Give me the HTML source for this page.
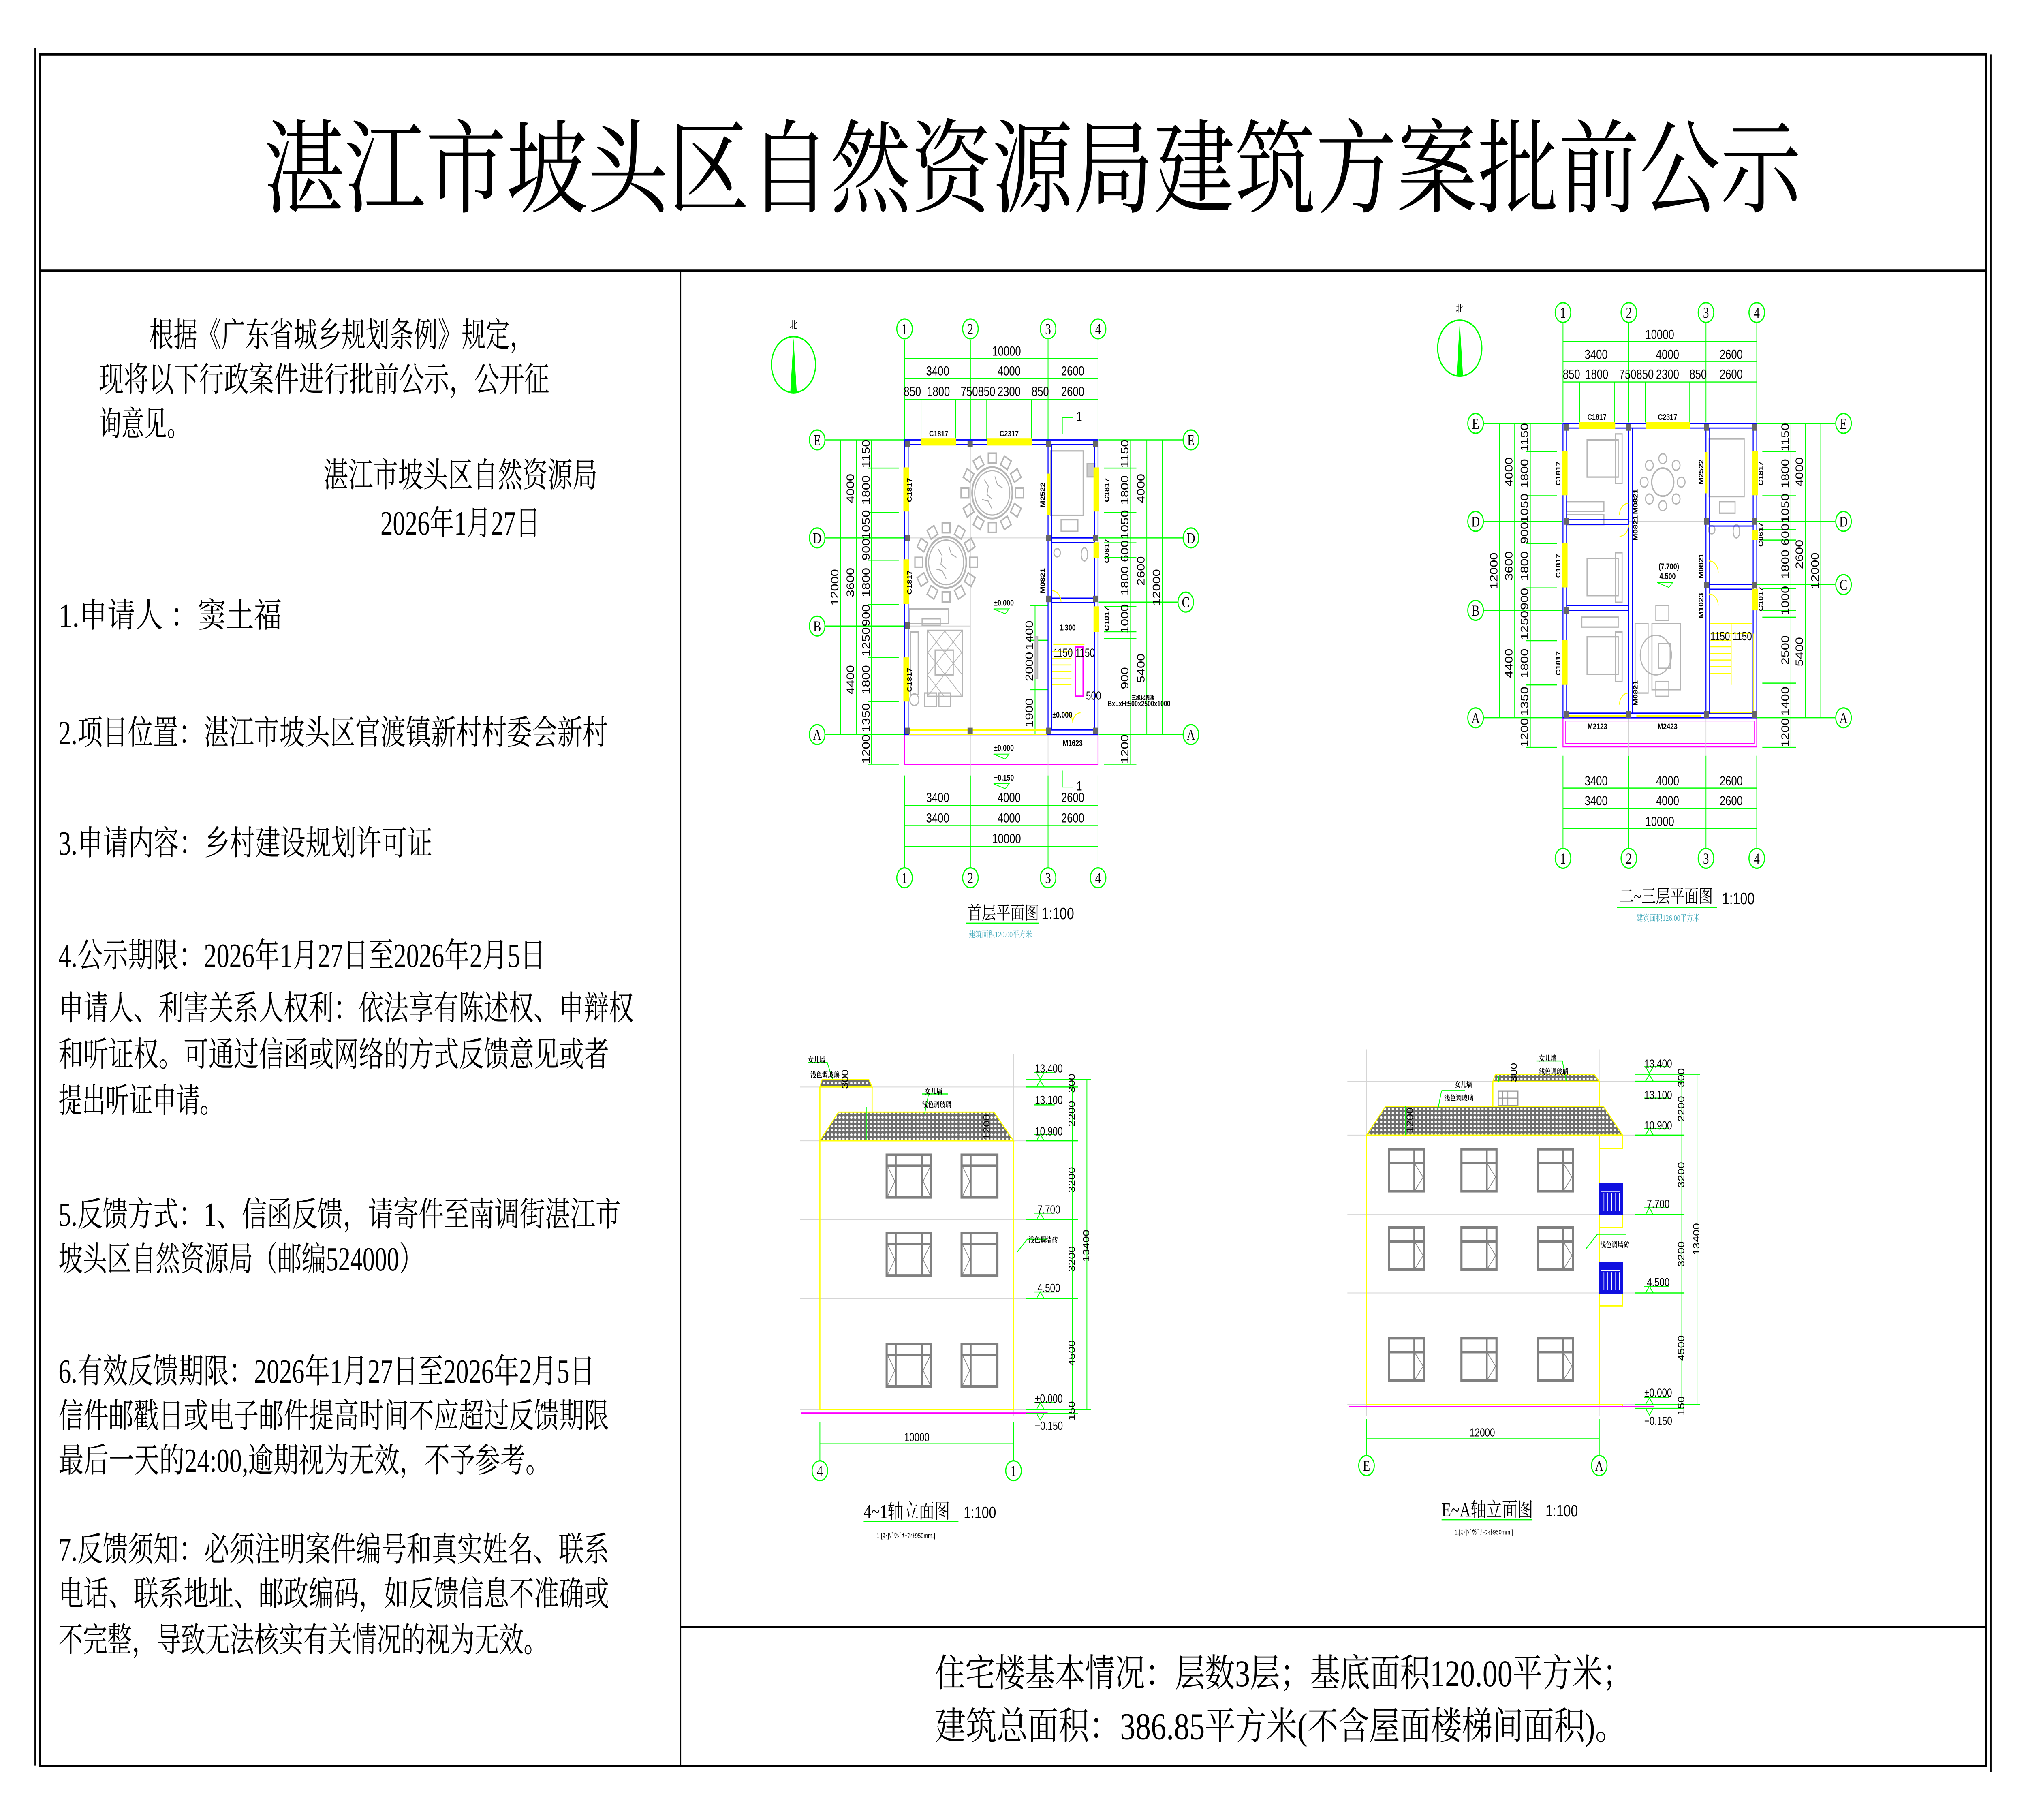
<!DOCTYPE html>
<html><head><meta charset="utf-8">
<style>
html,body{margin:0;padding:0;background:#fff;overflow:hidden;width:100%;height:100%;}
svg{display:block;width:100vw;height:100vh;}
.cn{font-family:"Liberation Serif","Noto Serif CJK SC",serif;}
.d{font-family:"Liberation Sans",sans-serif;fill:#000;}
</style></head>
<body>
<svg viewBox="0 0 1560 1103" preserveAspectRatio="none" xmlns="http://www.w3.org/2000/svg">
<defs>
<pattern id="tile" width="3" height="2.6" patternUnits="userSpaceOnUse">
<rect width="3" height="2.6" fill="#6e6e6e"/><rect x="0.6" y="0.6" width="1.8" height="1.3" rx="0.6" fill="#fff"/>
</pattern>
<g id="table">
<circle r="15.5" fill="none" stroke="#b5b5b5" stroke-width="1.2"/>
<circle r="13.5" fill="none" stroke="#b5b5b5" stroke-width="0.8"/>
<g fill="none" stroke="#b5b5b5" stroke-width="1">
<rect x="-3" y="-24" width="6" height="6" transform="rotate(0)"/>
<rect x="-3" y="-24" width="6" height="6" transform="rotate(30)"/>
<rect x="-3" y="-24" width="6" height="6" transform="rotate(60)"/>
<rect x="-3" y="-24" width="6" height="6" transform="rotate(90)"/>
<rect x="-3" y="-24" width="6" height="6" transform="rotate(120)"/>
<rect x="-3" y="-24" width="6" height="6" transform="rotate(150)"/>
<rect x="-3" y="-24" width="6" height="6" transform="rotate(180)"/>
<rect x="-3" y="-24" width="6" height="6" transform="rotate(210)"/>
<rect x="-3" y="-24" width="6" height="6" transform="rotate(240)"/>
<rect x="-3" y="-24" width="6" height="6" transform="rotate(270)"/>
<rect x="-3" y="-24" width="6" height="6" transform="rotate(300)"/>
<rect x="-3" y="-24" width="6" height="6" transform="rotate(330)"/>
</g>
<path d="M-6 -8 l3 4 l-1 5 l4 3 M2 -10 l2 5 l4 2 M-8 4 l5 1 l3 5" stroke="#aaa" stroke-width="0.6" fill="none"/>
</g>
<g id="win3" fill="none" stroke="#808080">
<rect x="0" y="0" width="34.4" height="25.7" stroke-width="1.6"/>
<line x1="0" y1="6.5" x2="34.4" y2="6.5" stroke-width="1.4"/>
<line x1="7" y1="0" x2="7" y2="25.7" stroke-width="1.4"/>
<line x1="27.4" y1="0" x2="27.4" y2="25.7" stroke-width="1.4"/>
<path d="M0.8 7 L6.3 16 L0.8 25 M33.6 7 L28.1 16 L33.6 25" stroke-width="0.5"/>
</g>
<g id="win2" fill="none" stroke="#808080">
<rect x="0" y="0" width="27.6" height="25.7" stroke-width="1.6"/>
<line x1="0" y1="6.5" x2="27.6" y2="6.5" stroke-width="1.4"/>
<line x1="7" y1="0" x2="7" y2="25.7" stroke-width="1.4"/>
<path d="M0.8 7 L6.3 16 L0.8 25" stroke-width="0.5"/>
</g>
<g id="win4" fill="none" stroke="#808080">
<rect x="0" y="0" width="27" height="25.5" stroke-width="1.6"/>
<line x1="0" y1="8.5" x2="27" y2="8.5" stroke-width="1.4"/>
<line x1="19.5" y1="0" x2="19.5" y2="25.5" stroke-width="1.4"/>
<path d="M20 9 L26.3 17 L20 25" stroke-width="0.5"/>
</g>
</defs>

<g stroke="#000" fill="none">
<line x1="27" y1="29" x2="27" y2="1070" stroke-width="0.9"/>
<line x1="1533" y1="33" x2="1533" y2="1074" stroke-width="0.9"/>
<rect x="30.7" y="33" width="1498.7" height="1037.2" stroke-width="1.2"/>
<line x1="30.7" y1="164" x2="1529.4" y2="164" stroke-width="1.2"/>
<line x1="523.9" y1="164" x2="523.9" y2="1070" stroke-width="1.2"/>
<line x1="523.9" y1="986" x2="1529.4" y2="986" stroke-width="1.2"/>
</g>

<text class="cn" x="203" y="124" font-size="62" textLength="1184" lengthAdjust="spacingAndGlyphs">湛江市坡头区自然资源局建筑方案批前公示</text>

<g class="cn" font-size="20.5">
<text x="115" y="210" textLength="296" lengthAdjust="spacingAndGlyphs">根据《广东省城乡规划条例》规定，</text>
<text x="76" y="237" textLength="347" lengthAdjust="spacingAndGlyphs">现将以下行政案件进行批前公示，公开征</text>
<text x="76" y="264" textLength="70" lengthAdjust="spacingAndGlyphs">询意见。</text>
<text x="249" y="295" textLength="211" lengthAdjust="spacingAndGlyphs">湛江市坡头区自然资源局</text>
<text x="293" y="324" textLength="123" lengthAdjust="spacingAndGlyphs">2026年1月27日</text>
<text x="45" y="380" textLength="172" lengthAdjust="spacingAndGlyphs">1.申请人  ：窦土福</text>
<text x="45" y="451" textLength="423" lengthAdjust="spacingAndGlyphs">2.项目位置：湛江市坡头区官渡镇新村村委会新村</text>
<text x="45" y="518" textLength="288" lengthAdjust="spacingAndGlyphs">3.申请内容：乡村建设规划许可证</text>
<text x="45" y="586" textLength="375" lengthAdjust="spacingAndGlyphs">4.公示期限：2026年1月27日至2026年2月5日</text>
<text x="45" y="618" textLength="443" lengthAdjust="spacingAndGlyphs">申请人、利害关系人权利：依法享有陈述权、申辩权</text>
<text x="45" y="646" textLength="424" lengthAdjust="spacingAndGlyphs">和听证权。可通过信函或网络的方式反馈意见或者</text>
<text x="45" y="674" textLength="127" lengthAdjust="spacingAndGlyphs">提出听证申请。</text>
<text x="45" y="743" textLength="433" lengthAdjust="spacingAndGlyphs">5.反馈方式：1、信函反馈，请寄件至南调街湛江市</text>
<text x="45" y="770" textLength="281" lengthAdjust="spacingAndGlyphs">坡头区自然资源局（邮编524000）</text>
<text x="45" y="838" textLength="413" lengthAdjust="spacingAndGlyphs">6.有效反馈期限：2026年1月27日至2026年2月5日</text>
<text x="45" y="865" textLength="424" lengthAdjust="spacingAndGlyphs">信件邮戳日或电子邮件提高时间不应超过反馈期限</text>
<text x="45" y="892" textLength="379" lengthAdjust="spacingAndGlyphs">最后一天的24:00,逾期视为无效，不予参考。</text>
<text x="45" y="946" textLength="424" lengthAdjust="spacingAndGlyphs">7.反馈须知：必须注明案件编号和真实姓名、联系</text>
<text x="45" y="973" textLength="424" lengthAdjust="spacingAndGlyphs">电话、联系地址、邮政编码，如反馈信息不准确或</text>
<text x="45" y="1001" textLength="377" lengthAdjust="spacingAndGlyphs">不完整，导致无法核实有关情况的视为无效。</text>
</g>

<g class="cn" font-size="23">
<text x="720" y="1022" textLength="537" lengthAdjust="spacingAndGlyphs">住宅楼基本情况：层数3层；基底面积120.00平方米；</text>
<text x="720" y="1054" textLength="532" lengthAdjust="spacingAndGlyphs">建筑总面积：386.85平方米(不含屋面楼梯间面积)。</text>
</g>

<!-- ============ FLOOR PLAN 1 ============ -->
<g>
<circle cx="611" cy="221" r="17" fill="none" stroke="#0f0" stroke-width="0.9"/>
<polygon points="611,205 608.5,238 613.5,238" fill="#0f0"/>
<text x="611" y="199" font-size="6" text-anchor="middle" class="cn">北</text>

<g stroke="#0f0" stroke-width="0.6" fill="none">
<line x1="696.5" y1="206" x2="696.5" y2="266"/><line x1="747.2" y1="206" x2="747.2" y2="266"/>
<line x1="807" y1="206" x2="807" y2="266"/><line x1="845.5" y1="206" x2="845.5" y2="266"/>
<line x1="696.5" y1="217.3" x2="845.5" y2="217.3"/>
<line x1="696.5" y1="229.4" x2="845.5" y2="229.4"/>
<line x1="696.5" y1="242.1" x2="845.5" y2="242.1"/>
<line x1="709.2" y1="242" x2="709.2" y2="266"/><line x1="736" y1="242" x2="736" y2="266"/>
<line x1="759.8" y1="242" x2="759.8" y2="266"/><line x1="794.1" y1="242" x2="794.1" y2="266"/>
<line x1="696.5" y1="470" x2="696.5" y2="526"/><line x1="747.2" y1="470" x2="747.2" y2="526"/>
<line x1="807" y1="470" x2="807" y2="526"/><line x1="845.5" y1="470" x2="845.5" y2="526"/>
<line x1="696.5" y1="488.1" x2="845.5" y2="488.1"/>
<line x1="696.5" y1="500.4" x2="845.5" y2="500.4"/>
<line x1="696.5" y1="512.9" x2="845.5" y2="512.9"/>
<line x1="635" y1="266.6" x2="696" y2="266.6"/><line x1="635" y1="326" x2="696" y2="326"/>
<line x1="635" y1="379.4" x2="696" y2="379.4"/><line x1="635" y1="445.2" x2="696" y2="445.2"/>
<line x1="647.3" y1="266.6" x2="647.3" y2="445.2"/>
<line x1="659.3" y1="266.6" x2="659.3" y2="445.2"/>
<line x1="671.1" y1="266.6" x2="671.1" y2="463.1"/>
<line x1="668" y1="283.7" x2="692" y2="283.7"/><line x1="668" y1="310.5" x2="692" y2="310.5"/>
<line x1="668" y1="339.5" x2="692" y2="339.5"/><line x1="668" y1="366.3" x2="692" y2="366.3"/>
<line x1="668" y1="398.3" x2="692" y2="398.3"/><line x1="668" y1="425.1" x2="692" y2="425.1"/>
<line x1="668" y1="463.1" x2="692" y2="463.1"/>
<line x1="846" y1="266.6" x2="911" y2="266.6"/><line x1="846" y1="326" x2="911" y2="326"/>
<line x1="846" y1="364.9" x2="907" y2="364.9"/><line x1="846" y1="445.2" x2="911" y2="445.2"/>
<line x1="870.6" y1="266.6" x2="870.6" y2="463.1"/>
<line x1="883" y1="266.6" x2="883" y2="445.2"/>
<line x1="895" y1="266.6" x2="895" y2="445.2"/>
<line x1="850" y1="283.7" x2="875" y2="283.7"/><line x1="850" y1="310.5" x2="875" y2="310.5"/>
<line x1="850" y1="329" x2="875" y2="329"/><line x1="850" y1="338" x2="875" y2="338"/>
<line x1="850" y1="367.5" x2="875" y2="367.5"/><line x1="850" y1="382.9" x2="875" y2="382.9"/>
<line x1="850" y1="387" x2="875" y2="387"/><line x1="850" y1="463.1" x2="875" y2="463.1"/>
<line x1="797" y1="367" x2="797" y2="445"/>
<line x1="793" y1="367" x2="807" y2="367"/><line x1="793" y1="388" x2="807" y2="388"/><line x1="793" y1="418" x2="807" y2="418"/>
</g>
<g fill="#fff" stroke="#0f0" stroke-width="0.8">
<circle cx="696.5" cy="199.3" r="6"/><circle cx="747.2" cy="199.3" r="6"/><circle cx="807" cy="199.3" r="6"/><circle cx="845.5" cy="199.3" r="6"/>
<circle cx="696.5" cy="532" r="6"/><circle cx="747.2" cy="532" r="6"/><circle cx="807" cy="532" r="6"/><circle cx="845.5" cy="532" r="6"/>
<circle cx="629.2" cy="266.6" r="6"/><circle cx="629.2" cy="326" r="6"/><circle cx="629.2" cy="379.4" r="6"/><circle cx="629.2" cy="445.2" r="6"/>
<circle cx="917" cy="266.6" r="6"/><circle cx="917" cy="326" r="6"/><circle cx="913" cy="364.9" r="6"/><circle cx="917" cy="445.2" r="6"/>
</g>
<g class="cn" font-size="9" text-anchor="middle">
<text x="696.5" y="202.5">1</text><text x="747.2" y="202.5">2</text><text x="807" y="202.5">3</text><text x="845.5" y="202.5">4</text>
<text x="696.5" y="535.2">1</text><text x="747.2" y="535.2">2</text><text x="807" y="535.2">3</text><text x="845.5" y="535.2">4</text>
<text x="629.2" y="269.8">E</text><text x="629.2" y="329.2">D</text><text x="629.2" y="382.6">B</text><text x="629.2" y="448.4">A</text>
<text x="917" y="269.8">E</text><text x="917" y="329.2">D</text><text x="913" y="368.1">C</text><text x="917" y="448.4">A</text>
</g>
<g class="d" font-size="8" text-anchor="middle">
<text x="775" y="215.5">10000</text>
<text x="722" y="227.5">3400</text><text x="777" y="227.5">4000</text><text x="826" y="227.5">2600</text>
<text x="702.5" y="240">850</text><text x="722.5" y="240">1800</text><text x="753" y="240">750850</text><text x="777" y="240">2300</text><text x="801" y="240">850</text><text x="826" y="240">2600</text>
<text x="722" y="486">3400</text><text x="777" y="486">4000</text><text x="826" y="486">2600</text>
<text x="722" y="498.5">3400</text><text x="777" y="498.5">4000</text><text x="826" y="498.5">2600</text>
<text x="775" y="511">10000</text>
<text x="831" y="255">1</text><text x="831" y="479">1</text>
</g>
<g class="d" font-size="8" text-anchor="middle">
<text transform="translate(645.5,356) rotate(-90)">12000</text>
<text transform="translate(657.5,296) rotate(-90)">4000</text>
<text transform="translate(657.5,353) rotate(-90)">3600</text>
<text transform="translate(657.5,412) rotate(-90)">4400</text>
<text transform="translate(669.5,275) rotate(-90)">1150</text>
<text transform="translate(669.5,297) rotate(-90)">1800</text>
<text transform="translate(669.5,318) rotate(-90)">1050</text>
<text transform="translate(669.5,333) rotate(-90)">900</text>
<text transform="translate(669.5,353) rotate(-90)">1800</text>
<text transform="translate(669.5,373) rotate(-90)">900</text>
<text transform="translate(669.5,389) rotate(-90)">1250</text>
<text transform="translate(669.5,412) rotate(-90)">1800</text>
<text transform="translate(669.5,435) rotate(-90)">1350</text>
<text transform="translate(669.5,454) rotate(-90)">1200</text>
<text transform="translate(868.8,275) rotate(-90)">1150</text>
<text transform="translate(868.8,297) rotate(-90)">1800</text>
<text transform="translate(868.8,318) rotate(-90)">1050</text>
<text transform="translate(868.8,334) rotate(-90)">600</text>
<text transform="translate(868.8,352) rotate(-90)">1800</text>
<text transform="translate(868.8,375) rotate(-90)">1000</text>
<text transform="translate(868.8,411) rotate(-90)">900</text>
<text transform="translate(868.8,454) rotate(-90)">1200</text>
<text transform="translate(881.3,296) rotate(-90)">4000</text>
<text transform="translate(881.3,346) rotate(-90)">2600</text>
<text transform="translate(881.3,405) rotate(-90)">5400</text>
<text transform="translate(893.3,356) rotate(-90)">12000</text>
<text transform="translate(795.3,385) rotate(-90)">1400</text>
<text transform="translate(795.3,404) rotate(-90)">2000</text>
<text transform="translate(795.3,432) rotate(-90)">1900</text>
</g>
<rect x="696.5" y="445.2" width="149" height="17.9" fill="none" stroke="#f0f" stroke-width="0.7"/>
<g stroke="#d0d0d0" stroke-width="0.5"><line x1="747.2" y1="267" x2="747.2" y2="470"/><line x1="697" y1="326" x2="807" y2="326"/><line x1="697" y1="379.4" x2="747" y2="379.4"/><line x1="807" y1="445" x2="807" y2="470"/></g>
<use href="#table" x="764" y="298.7"/>
<use href="#table" x="728.5" y="340.8"/>
<g fill="none" stroke="#b5b5b5" stroke-width="0.8">
<rect x="700.5" y="369" width="30" height="9"/>
<rect x="710" y="375" width="14" height="4"/>
<rect x="714" y="382" width="27" height="40"/>
<path d="M714 382 l27 27 M714 395 l27 27 M714 409 l13 13 M727 382 l14 14 M741 382 l-27 27 M741 395 l-27 27 M728 382 l-14 14" stroke-width="0.5"/>
<rect x="720" y="394" width="14" height="15"/>
<rect x="701" y="383" width="6" height="38"/>
<circle cx="704" cy="424" r="3.5"/>
<rect x="712" y="420" width="9" height="8"/><rect x="723" y="420" width="9" height="8"/>
<rect x="809" y="273.3" width="25" height="39"/>
<rect x="837" y="281" width="6" height="8" fill="#ccc"/>
<rect x="817" y="315" width="13" height="7"/>
<circle cx="814" cy="335" r="2.5"/><ellipse cx="835" cy="336" rx="2.5" ry="4"/>
<rect x="797" y="386" width="2" height="25" fill="#ccc"/>
</g>
<g fill="none" stroke="#00f" stroke-width="0.7">
<rect x="696.5" y="266.6" width="149" height="178.6"/>
<rect x="699.3" y="269.4" width="143.4" height="173"/>
<line x1="807" y1="266.6" x2="807" y2="445.2"/><line x1="809.8" y1="269.4" x2="809.8" y2="442.4"/>
<line x1="807" y1="326" x2="845.5" y2="326"/><line x1="809.8" y1="328.8" x2="842.7" y2="328.8"/>
<line x1="807" y1="362.5" x2="845.5" y2="362.5"/><line x1="809.8" y1="365.3" x2="842.7" y2="365.3"/>
</g>
<g fill="#ff0" stroke="none">
<rect x="709.3" y="265.8" width="27" height="4.2"/>
<rect x="759.8" y="265.8" width="34.8" height="4.2"/>
<rect x="695.6" y="283.3" width="4.4" height="26.7"/>
<rect x="695.6" y="339" width="4.4" height="27"/>
<rect x="695.6" y="398.4" width="4.4" height="26.8"/>
<rect x="842" y="283.3" width="4.4" height="26.7"/>
<rect x="842" y="328.7" width="4.4" height="9.3"/>
<rect x="842" y="367.5" width="4.4" height="15.4"/>
<rect x="806.5" y="287" width="2" height="25"/>
<rect x="700" y="442" width="106" height="1"/><rect x="700" y="444.6" width="106" height="0.9"/>
<rect x="811" y="390" width="24" height="0.8"/>
</g>
<g stroke="#ff0" stroke-width="0.6" fill="none">
<line x1="810" y1="395" x2="825" y2="395"/><line x1="810" y1="399" x2="825" y2="399"/><line x1="810" y1="403" x2="825" y2="403"/><line x1="810" y1="407" x2="825" y2="407"/><line x1="810" y1="411" x2="825" y2="411"/><line x1="810" y1="415" x2="825" y2="415"/>
<path d="M810 358 a7 7 0 0 1 7 7"/>
<path d="M826 438 a6 6 0 0 0 -6 -6 M826 438 a6 6 0 0 1 6 -6"/>
</g>
<rect x="828" y="392" width="6" height="30" fill="none" stroke="#f0f" stroke-width="1"/>
<g fill="#666">
<rect x="697" y="267" width="4" height="4"/><rect x="745" y="267" width="4" height="4"/><rect x="805.5" y="267" width="4" height="4"/><rect x="841.5" y="267" width="4" height="4"/>
<rect x="697" y="324" width="4" height="4"/><rect x="697" y="377" width="4" height="4"/><rect x="697" y="441" width="4" height="4"/><rect x="745" y="441" width="4" height="4"/><rect x="805.5" y="441" width="4" height="4"/><rect x="841.5" y="441" width="4" height="4"/>
<rect x="805.5" y="324" width="4" height="4"/><rect x="841.5" y="324" width="4" height="4"/><rect x="805.5" y="361" width="4" height="4"/><rect x="841.5" y="361" width="4" height="4"/>
</g>
<g class="d" font-size="5" font-weight="bold" text-anchor="middle">
<text x="722.8" y="264.5">C1817</text><text x="777" y="264.5">C2317</text>
<text x="826" y="452">M1623</text>
<text transform="translate(702,297) rotate(-90)">C1817</text>
<text transform="translate(702,353) rotate(-90)">C1817</text>
<text transform="translate(702,412) rotate(-90)">C1817</text>
<text transform="translate(854,297) rotate(-90)">C1817</text>
<text transform="translate(854,334) rotate(-90)">C0617</text>
<text transform="translate(854,375) rotate(-90)">C1017</text>
<text transform="translate(804.5,300) rotate(-90)">M2522</text>
<text transform="translate(804.5,352) rotate(-90)">M0821</text>
<text x="773" y="367">±0.000</text><text x="773" y="455">±0.000</text><text x="773" y="473">−0.150</text>
<text x="822" y="382">1.300</text><text x="818" y="435">±0.000</text>
<text x="877" y="428" font-size="4.5">BxLxH:500x2500x1000</text>
<text x="880" y="424" font-size="3.5">三级化粪池</text>
</g>
<g class="d" font-size="7" text-anchor="middle"><text x="827" y="398">1150 1150</text><text x="842" y="424">500</text></g>
<g stroke="#0f0" stroke-width="0.5" fill="none">
<path d="M765 369 h12 l-3 3 z M765 457 h12 l-3 3 z M765 475 h12 l-3 3 z"/>
<path d="M818 253 v10 M818 253 h8 M818 467 v10 M818 477 h8"/>
</g>
<text class="cn" x="745" y="557" font-size="11">首层平面图</text>
<text class="d" x="802" y="557" font-size="10">1:100</text>
<line x1="744" y1="559.5" x2="800" y2="559.5" stroke="#0f0" stroke-width="0.7"/>
<text class="cn" x="746" y="568" font-size="5" fill="#4ab">建筑面积120.00平方米</text>
</g>

<!-- ============ FLOOR PLAN 2 ============ -->
<g>
<circle cx="1124" cy="211" r="17" fill="none" stroke="#0f0" stroke-width="0.9"/>
<polygon points="1124,195 1121.5,228 1126.5,228" fill="#0f0"/>
<text x="1124" y="189" font-size="6" text-anchor="middle" class="cn">北</text>
<g stroke="#0f0" stroke-width="0.6" fill="none">
<line x1="1203.5" y1="196" x2="1203.5" y2="256"/><line x1="1254.2" y1="196" x2="1254.2" y2="256"/>
<line x1="1313.6" y1="196" x2="1313.6" y2="256"/><line x1="1352.7" y1="196" x2="1352.7" y2="256"/>
<line x1="1203.5" y1="207" x2="1352.7" y2="207"/>
<line x1="1203.5" y1="219" x2="1352.7" y2="219"/>
<line x1="1203.5" y1="231.5" x2="1352.7" y2="231.5"/>
<line x1="1216.2" y1="231.5" x2="1216.2" y2="256"/><line x1="1243" y1="231.5" x2="1243" y2="256"/>
<line x1="1266.8" y1="231.5" x2="1266.8" y2="256"/><line x1="1301.1" y1="231.5" x2="1301.1" y2="256"/>
<line x1="1203.5" y1="458" x2="1203.5" y2="514"/><line x1="1254.2" y1="458" x2="1254.2" y2="514"/>
<line x1="1313.6" y1="458" x2="1313.6" y2="514"/><line x1="1352.7" y1="458" x2="1352.7" y2="514"/>
<line x1="1203.5" y1="477.6" x2="1352.7" y2="477.6"/>
<line x1="1203.5" y1="490" x2="1352.7" y2="490"/>
<line x1="1203.5" y1="502.2" x2="1352.7" y2="502.2"/>
<line x1="1142" y1="256.6" x2="1203" y2="256.6"/><line x1="1142" y1="316" x2="1203" y2="316"/>
<line x1="1142" y1="369.9" x2="1203" y2="369.9"/><line x1="1142" y1="435" x2="1203" y2="435"/>
<line x1="1154.6" y1="256.6" x2="1154.6" y2="435"/>
<line x1="1166.3" y1="256.6" x2="1166.3" y2="435"/>
<line x1="1178.3" y1="256.6" x2="1178.3" y2="452.9"/>
<line x1="1175" y1="273.7" x2="1199" y2="273.7"/><line x1="1175" y1="300.5" x2="1199" y2="300.5"/>
<line x1="1175" y1="329.5" x2="1199" y2="329.5"/><line x1="1175" y1="356.3" x2="1199" y2="356.3"/>
<line x1="1175" y1="388.3" x2="1199" y2="388.3"/><line x1="1175" y1="415.1" x2="1199" y2="415.1"/>
<line x1="1175" y1="452.9" x2="1199" y2="452.9"/>
<line x1="1353" y1="256.6" x2="1413" y2="256.6"/><line x1="1353" y1="316" x2="1413" y2="316"/>
<line x1="1353" y1="354.3" x2="1413" y2="354.3"/><line x1="1353" y1="435" x2="1413" y2="435"/>
<line x1="1379" y1="256.6" x2="1379" y2="452.9"/>
<line x1="1390" y1="256.6" x2="1390" y2="435"/>
<line x1="1402" y1="256.6" x2="1402" y2="435"/>
<line x1="1357" y1="273.7" x2="1383" y2="273.7"/><line x1="1357" y1="300.5" x2="1383" y2="300.5"/>
<line x1="1357" y1="321" x2="1383" y2="321"/><line x1="1357" y1="327.3" x2="1383" y2="327.3"/>
<line x1="1357" y1="356.8" x2="1383" y2="356.8"/><line x1="1357" y1="369.9" x2="1383" y2="369.9"/>
<line x1="1357" y1="374" x2="1383" y2="374"/><line x1="1357" y1="414" x2="1383" y2="414"/>
<line x1="1357" y1="452.9" x2="1383" y2="452.9"/>
</g>
<g fill="#fff" stroke="#0f0" stroke-width="0.8">
<circle cx="1203.5" cy="189.4" r="6"/><circle cx="1254.2" cy="189.4" r="6"/><circle cx="1313.6" cy="189.4" r="6"/><circle cx="1352.7" cy="189.4" r="6"/>
<circle cx="1203.5" cy="520.2" r="6"/><circle cx="1254.2" cy="520.2" r="6"/><circle cx="1313.6" cy="520.2" r="6"/><circle cx="1352.7" cy="520.2" r="6"/>
<circle cx="1136.2" cy="256.6" r="6"/><circle cx="1136.2" cy="316" r="6"/><circle cx="1136.2" cy="369.9" r="6"/><circle cx="1136.2" cy="435" r="6"/>
<circle cx="1419.5" cy="256.6" r="6"/><circle cx="1419.5" cy="316" r="6"/><circle cx="1419.5" cy="354.3" r="6"/><circle cx="1419.5" cy="435" r="6"/>
</g>
<g class="cn" font-size="9" text-anchor="middle">
<text x="1203.5" y="192.6">1</text><text x="1254.2" y="192.6">2</text><text x="1313.6" y="192.6">3</text><text x="1352.7" y="192.6">4</text>
<text x="1203.5" y="523.4">1</text><text x="1254.2" y="523.4">2</text><text x="1313.6" y="523.4">3</text><text x="1352.7" y="523.4">4</text>
<text x="1136.2" y="259.8">E</text><text x="1136.2" y="319.2">D</text><text x="1136.2" y="373.1">B</text><text x="1136.2" y="438.2">A</text>
<text x="1419.5" y="259.8">E</text><text x="1419.5" y="319.2">D</text><text x="1419.5" y="357.5">C</text><text x="1419.5" y="438.2">A</text>
</g>
<g class="d" font-size="8" text-anchor="middle">
<text x="1278" y="205.5">10000</text>
<text x="1229" y="217.5">3400</text><text x="1284" y="217.5">4000</text><text x="1333" y="217.5">2600</text>
<text x="1210" y="229.5">850</text><text x="1229.5" y="229.5">1800</text><text x="1260" y="229.5">750850</text><text x="1284" y="229.5">2300</text><text x="1307.5" y="229.5">850</text><text x="1333" y="229.5">2600</text>
<text x="1229" y="476">3400</text><text x="1284" y="476">4000</text><text x="1333" y="476">2600</text>
<text x="1229" y="488">3400</text><text x="1284" y="488">4000</text><text x="1333" y="488">2600</text>
<text x="1278" y="500.5">10000</text>
<text transform="translate(1153,346) rotate(-90)">12000</text>
<text transform="translate(1164.6,286) rotate(-90)">4000</text>
<text transform="translate(1164.6,343) rotate(-90)">3600</text>
<text transform="translate(1164.6,402) rotate(-90)">4400</text>
<text transform="translate(1176.6,265) rotate(-90)">1150</text>
<text transform="translate(1176.6,287) rotate(-90)">1800</text>
<text transform="translate(1176.6,308) rotate(-90)">1050</text>
<text transform="translate(1176.6,323) rotate(-90)">900</text>
<text transform="translate(1176.6,343) rotate(-90)">1800</text>
<text transform="translate(1176.6,363) rotate(-90)">900</text>
<text transform="translate(1176.6,379) rotate(-90)">1250</text>
<text transform="translate(1176.6,402) rotate(-90)">1800</text>
<text transform="translate(1176.6,425) rotate(-90)">1350</text>
<text transform="translate(1176.6,444) rotate(-90)">1200</text>
<text transform="translate(1377.3,265) rotate(-90)">1150</text>
<text transform="translate(1377.3,287) rotate(-90)">1800</text>
<text transform="translate(1377.3,308) rotate(-90)">1050</text>
<text transform="translate(1377.3,324) rotate(-90)">600</text>
<text transform="translate(1377.3,342) rotate(-90)">1800</text>
<text transform="translate(1377.3,364) rotate(-90)">1000</text>
<text transform="translate(1377.3,394) rotate(-90)">2500</text>
<text transform="translate(1377.3,425) rotate(-90)">1400</text>
<text transform="translate(1377.3,444) rotate(-90)">1200</text>
<text transform="translate(1388.3,286) rotate(-90)">4000</text>
<text transform="translate(1388.3,336) rotate(-90)">2600</text>
<text transform="translate(1388.3,395) rotate(-90)">5400</text>
<text transform="translate(1400.3,346) rotate(-90)">12000</text>
</g>
<rect x="1203.5" y="435" width="149.2" height="17.6" fill="none" stroke="#f0f" stroke-width="0.7"/>
<rect x="1205.5" y="437" width="145.2" height="13.6" fill="none" stroke="#f0f" stroke-width="0.4"/>
<g stroke="#d0d0d0" stroke-width="0.5"><line x1="1254.2" y1="316" x2="1313.6" y2="316"/><line x1="1254.2" y1="435" x2="1254.2" y2="458"/><line x1="1313.6" y1="435" x2="1313.6" y2="458"/></g>
<g fill="none" stroke="#b5b5b5" stroke-width="0.8">
<rect x="1222" y="266.6" width="24" height="22.5"/><rect x="1244" y="263" width="5" height="30"/>
<rect x="1222" y="338.5" width="24" height="22.5"/><rect x="1244" y="335" width="5" height="30"/>
<rect x="1222" y="386" width="24" height="22.7"/><rect x="1244" y="383" width="5" height="30"/>
<rect x="1206" y="304" width="29" height="6"/><rect x="1206" y="312" width="29" height="6"/>
<rect x="1218" y="374" width="28" height="6"/>
<circle cx="1280.3" cy="292.2" r="8.5" stroke-width="1"/>
<circle cx="1280.3" cy="278" r="3"/><circle cx="1280.3" cy="306.5" r="3"/><circle cx="1266" cy="292.2" r="3"/><circle cx="1294.5" cy="292.2" r="3"/>
<circle cx="1270" cy="282" r="3"/><circle cx="1290.6" cy="282" r="3"/><circle cx="1270" cy="302.4" r="3"/><circle cx="1290.6" cy="302.4" r="3"/>
<rect x="1259" y="378" width="10" height="42"/><rect x="1272" y="378" width="22" height="40"/>
<rect x="1277" y="390" width="9" height="15"/>
<circle cx="1275" cy="397" r="12"/>
<rect x="1275" y="367" width="10" height="9"/><rect x="1275" y="413" width="10" height="9"/>
<rect x="1316" y="266" width="27" height="35"/>
<rect x="1324" y="304" width="12" height="7"/>
<circle cx="1318" cy="321" r="2.5"/><ellipse cx="1337" cy="322" rx="2.5" ry="4"/>
</g>
<g fill="none" stroke="#00f" stroke-width="0.7">
<rect x="1203.5" y="256.6" width="149.2" height="178.4"/>
<rect x="1206.3" y="259.4" width="143.6" height="172.8"/>
<line x1="1254.2" y1="256.6" x2="1254.2" y2="435"/><line x1="1257" y1="259.4" x2="1257" y2="432"/>
<line x1="1206" y1="315" x2="1254" y2="315"/><line x1="1206" y1="317.8" x2="1254" y2="317.8"/>
<line x1="1206" y1="367" x2="1254" y2="367"/><line x1="1206" y1="369.8" x2="1254" y2="369.8"/>
<line x1="1313.6" y1="256.6" x2="1313.6" y2="435"/><line x1="1316.4" y1="259.4" x2="1316.4" y2="432"/>
<line x1="1313.6" y1="316" x2="1352.7" y2="316"/><line x1="1316.4" y1="318.8" x2="1350" y2="318.8"/>
<line x1="1313.6" y1="354.3" x2="1352.7" y2="354.3"/><line x1="1316.4" y1="357.1" x2="1350" y2="357.1"/>
</g>
<g fill="#ff0">
<rect x="1215.6" y="255.8" width="28.1" height="4.2"/>
<rect x="1267.1" y="255.8" width="34" height="4.2"/>
<rect x="1202.6" y="273.4" width="4.4" height="26.8"/>
<rect x="1202.6" y="329" width="4.4" height="27"/>
<rect x="1202.6" y="387.9" width="4.4" height="27.1"/>
<rect x="1349.2" y="273.4" width="4.4" height="26.8"/>
<rect x="1349.2" y="321" width="4.4" height="6.3"/>
<rect x="1349.2" y="356.8" width="4.4" height="13.1"/>
<rect x="1312.6" y="274" width="2" height="25"/>
<rect x="1208" y="433.5" width="44" height="1"/><rect x="1260" y="433.5" width="50" height="1"/>
</g>
<g stroke="#ff0" stroke-width="0.6" fill="none">
<line x1="1317" y1="378" x2="1349" y2="378"/>
<line x1="1317" y1="384" x2="1349" y2="384"/><line x1="1317" y1="388" x2="1333" y2="388"/><line x1="1317" y1="392" x2="1333" y2="392"/><line x1="1317" y1="396" x2="1333" y2="396"/><line x1="1317" y1="400" x2="1333" y2="400"/><line x1="1317" y1="404" x2="1333" y2="404"/><line x1="1317" y1="408" x2="1333" y2="408"/>
<line x1="1333" y1="378" x2="1333" y2="415"/><line x1="1350" y1="384" x2="1350" y2="432"/>
<line x1="1317" y1="432" x2="1350" y2="432"/>
<path d="M1254 305 a7 7 0 0 0 -7 7 M1254 318 a7 7 0 0 1 -7 7 M1254 420 a7 7 0 0 0 -7 7 M1316 340 a7 7 0 0 1 7 7 M1316 360 a7 7 0 0 1 7 7"/>
</g>
<g fill="#666">
<rect x="1204" y="257" width="4" height="4"/><rect x="1252" y="257" width="4" height="4"/><rect x="1312" y="257" width="4" height="4"/><rect x="1349" y="257" width="4" height="4"/>
<rect x="1204" y="314" width="4" height="4"/><rect x="1204" y="368" width="4" height="4"/><rect x="1204" y="431" width="4" height="4"/><rect x="1252" y="431" width="4" height="4"/><rect x="1312" y="431" width="4" height="4"/><rect x="1349" y="431" width="4" height="4"/>
<rect x="1312" y="314" width="4" height="4"/><rect x="1349" y="314" width="4" height="4"/><rect x="1312" y="352.5" width="4" height="4"/><rect x="1349" y="352.5" width="4" height="4"/>
</g>
<g class="d" font-size="5" font-weight="bold" text-anchor="middle">
<text x="1229.6" y="254.5">C1817</text><text x="1284" y="254.5">C2317</text>
<text x="1230" y="442">M2123</text><text x="1284" y="442">M2423</text>
<text transform="translate(1201.5,287) rotate(-90)">C1817</text>
<text transform="translate(1201.5,343) rotate(-90)">C1817</text>
<text transform="translate(1201.5,402) rotate(-90)">C1817</text>
<text transform="translate(1357.5,287) rotate(-90)">C1817</text>
<text transform="translate(1357.5,324) rotate(-90)">C0617</text>
<text transform="translate(1357.5,363) rotate(-90)">C1017</text>
<text transform="translate(1311.5,286) rotate(-90)">M2522</text>
<text transform="translate(1311.5,343) rotate(-90)">M0821</text>
<text transform="translate(1311.5,367) rotate(-90)">M1023</text>
<text transform="translate(1261,304) rotate(-90)">M0821</text>
<text transform="translate(1261,320) rotate(-90)">M0821</text>
<text transform="translate(1261,420) rotate(-90)">M0821</text>
<text x="1285" y="345">(7.700)</text><text x="1284" y="351">4.500</text>
</g>
<text class="d" x="1333" y="388" font-size="7" text-anchor="middle">1150 1150</text>
<path d="M1276 353 h12 l-3 3 z" stroke="#0f0" stroke-width="0.5" fill="none"/>
<text class="cn" x="1247" y="547" font-size="11">二~三层平面图</text>
<text class="d" x="1326" y="548" font-size="10">1:100</text>
<line x1="1245" y1="550" x2="1322" y2="550" stroke="#0f0" stroke-width="0.7"/>
<text class="cn" x="1260" y="558" font-size="5" fill="#4ab">建筑面积126.00平方米</text>
</g>

<!-- ============ ELEVATION 1 ============ -->
<g>
<g stroke="#d5d5d5" stroke-width="0.5">
<line x1="616" y1="658.8" x2="827" y2="658.8"/><line x1="616" y1="691.4" x2="827" y2="691.4"/>
<line x1="616" y1="739.2" x2="827" y2="739.2"/><line x1="616" y1="787" x2="827" y2="787"/>
<line x1="616" y1="854.2" x2="827" y2="854.2"/>
<line x1="780.4" y1="639" x2="780.4" y2="858"/>
</g>
<polygon points="645.6,674 765.4,674 780.4,691.4 631.3,691.4" fill="url(#tile)" stroke="#ff0" stroke-width="0.7"/>
<polygon points="633,654.3 669,654.3 671.5,658.8 631.3,658.8" fill="url(#tile)" stroke="#ff0" stroke-width="0.7"/>
<g fill="none" stroke="#ff0" stroke-width="0.8">
<path d="M631.3 658.8 V854.2 H780.4 V691.4 M671.5 658.8 V674"/>
</g>
<line x1="617" y1="856.3" x2="806.7" y2="856.3" stroke="#f0f" stroke-width="0.7"/>
<use href="#win3" x="682.7" y="699.9"/><use href="#win2" x="740.4" y="699.9"/>
<use href="#win3" x="682.7" y="747.3"/><use href="#win2" x="740.4" y="747.3"/>
<use href="#win3" x="682.7" y="814.5"/><use href="#win2" x="740.4" y="814.5"/>
<g stroke="#0f0" stroke-width="0.6" fill="none">
<line x1="825.7" y1="654.3" x2="825.7" y2="854.2"/>
<line x1="836.9" y1="654.3" x2="836.9" y2="854.2"/>
<line x1="790" y1="654.3" x2="840" y2="654.3"/><line x1="790" y1="658.8" x2="830" y2="658.8"/>
<line x1="790" y1="691.4" x2="830" y2="691.4"/><line x1="790" y1="739.2" x2="830" y2="739.2"/>
<line x1="790" y1="787" x2="830" y2="787"/><line x1="790" y1="854.2" x2="840" y2="854.2"/>
<line x1="790" y1="856.5" x2="830" y2="856.5"/>
<line x1="796" y1="650" x2="812" y2="650"/><line x1="796" y1="669.6" x2="812" y2="669.6"/>
<line x1="796" y1="687.6" x2="812" y2="687.6"/><line x1="796" y1="735.2" x2="812" y2="735.2"/>
<line x1="796" y1="783" x2="812" y2="783"/><line x1="796" y1="850" x2="812" y2="850"/>
<path d="M798 650 l3 4 l3 -4 M798 658.8 l3 -4 l3 4 M798 691.4 l3 -4 l3 4 M798 739.2 l3 -4 l3 4 M798 787 l3 -4 l3 4 M798 854.2 l3 -4 l3 4 M798 856.5 l3 4 l3 -4"/>
<line x1="631.3" y1="875" x2="780.4" y2="875"/>
<line x1="631.3" y1="862" x2="631.3" y2="885"/><line x1="780.4" y1="862" x2="780.4" y2="885"/>
<path d="M622 644 h15 l4 10 M710 663 h20 M715 663 l-3 12 M783 759 l8 -8 h15 M667 671 v20"/>
</g>
<g fill="#fff" stroke="#0f0" stroke-width="0.8"><circle cx="631.3" cy="891.3" r="6"/><circle cx="780.4" cy="891.3" r="6"/></g>
<g class="cn" font-size="9" text-anchor="middle"><text x="631.3" y="894.5">4</text><text x="780.4" y="894.5">1</text></g>
<g class="d" font-size="7" text-anchor="middle">
<text x="807.6" y="650">13.400</text><text x="807.6" y="669">13.100</text><text x="807.6" y="688">10.900</text>
<text x="807.6" y="735.5">7.700</text><text x="807.6" y="783">4.500</text><text x="807.6" y="850">±0.000</text><text x="807.6" y="866.5">−0.150</text>
<text x="706" y="873.5">10000</text>
<text transform="translate(827.6,656.5) rotate(-90)">300</text>
<text transform="translate(827.6,675) rotate(-90)">2200</text>
<text transform="translate(827.6,715) rotate(-90)">3200</text>
<text transform="translate(827.6,763) rotate(-90)">3200</text>
<text transform="translate(827.6,820) rotate(-90)">4500</text>
<text transform="translate(827.6,855) rotate(-90)">150</text>
<text transform="translate(838.6,755) rotate(-90)">13400</text>
<text transform="translate(653,654) rotate(-90)">300</text>
<text transform="translate(762,683) rotate(-90)">1200</text>
</g>
<g class="cn" font-size="4.5" font-weight="bold">
<text x="622" y="644">女儿墙</text><text x="624" y="653">浅色调玻璃</text>
<text x="712" y="663">女儿墙</text><text x="710" y="671">浅色调玻璃</text>
<text x="792" y="753">浅色调墙砖</text>
</g>
<text class="cn" x="665" y="920" font-size="12">4~1轴立面图</text>
<text class="d" x="742" y="920" font-size="10">1:100</text>
<line x1="665" y1="922" x2="738" y2="922" stroke="#0f0" stroke-width="0.7"/>
<text class="d" x="675" y="932" font-size="4" fill="#4ab">1.[ｽﾄ]ｿﾞｳｼﾞﾅｰﾌｨﾄ950mm.]</text>
</g>

<!-- ============ ELEVATION 2 ============ -->
<g>
<g stroke="#d5d5d5" stroke-width="0.5">
<line x1="1037.5" y1="655.3" x2="1285" y2="655.3"/><line x1="1037.5" y1="687.9" x2="1285" y2="687.9"/>
<line x1="1037.5" y1="736.1" x2="1285" y2="736.1"/><line x1="1037.5" y1="783.6" x2="1285" y2="783.6"/>
<line x1="1037.5" y1="851.2" x2="1285" y2="851.2"/>
<line x1="1052.2" y1="636" x2="1052.2" y2="858"/><line x1="1231.4" y1="636" x2="1231.4" y2="858"/>
</g>
<polygon points="1067,670.4 1234.6,670.4 1249.3,687.9 1052.2,687.9" fill="url(#tile)" stroke="#ff0" stroke-width="0.7"/>
<polygon points="1151.5,651 1227.5,651 1231.4,655.3 1149.5,655.3" fill="url(#tile)" stroke="#ff0" stroke-width="0.7"/>
<g fill="none" stroke="#ff0" stroke-width="0.8">
<path d="M1052.2 687.9 V851.2 H1231.4 V687.9 M1149.5 655.3 V670.4 M1231.4 655.3 V670.4"/>
<path d="M1231.4 687.9 H1249.3 V696 H1231.4 M1231.4 735.8 V744 H1249.3 V736 M1231.4 783.6 V791.4 H1249.3 V783.6 M1231.4 851.2 H1249.3 V853"/>
</g>
<rect x="1153.6" y="661.2" width="15.2" height="8.8" fill="none" stroke="#999" stroke-width="0.8"/>
<g stroke="#999" stroke-width="0.6"><line x1="1157" y1="661" x2="1157" y2="670"/><line x1="1161" y1="661" x2="1161" y2="670"/><line x1="1165" y1="661" x2="1165" y2="670"/><line x1="1153.6" y1="665.5" x2="1168.8" y2="665.5"/></g>
<line x1="1038.5" y1="852.6" x2="1273.7" y2="852.6" stroke="#f0f" stroke-width="0.7"/>
<use href="#win4" x="1069.5" y="696.4"/><use href="#win4" x="1125.3" y="696.4"/><use href="#win4" x="1184.1" y="696.4"/>
<use href="#win4" x="1069.5" y="743.9"/><use href="#win4" x="1125.3" y="743.9"/><use href="#win4" x="1184.1" y="743.9"/>
<use href="#win4" x="1069.5" y="811"/><use href="#win4" x="1125.3" y="811"/><use href="#win4" x="1184.1" y="811"/>
<g fill="#1010e0">
<rect x="1231" y="717" width="18.7" height="19.3"/><rect x="1231" y="764.9" width="18.7" height="19.1"/>
</g>
<g stroke="#fff" stroke-width="0.5">
<line x1="1233" y1="722" x2="1247.5" y2="722"/><line x1="1233" y1="770" x2="1247.5" y2="770"/>
<line x1="1235" y1="723" x2="1235" y2="734"/><line x1="1238" y1="723" x2="1238" y2="734"/><line x1="1241" y1="723" x2="1241" y2="734"/><line x1="1244" y1="723" x2="1244" y2="734"/><line x1="1247" y1="723" x2="1247" y2="734"/>
<line x1="1235" y1="771" x2="1235" y2="782"/><line x1="1238" y1="771" x2="1238" y2="782"/><line x1="1241" y1="771" x2="1241" y2="782"/><line x1="1244" y1="771" x2="1244" y2="782"/><line x1="1247" y1="771" x2="1247" y2="782"/>
</g>
<g stroke="#0f0" stroke-width="0.6" fill="none">
<line x1="1295" y1="651" x2="1295" y2="851.2"/>
<line x1="1306.7" y1="651" x2="1306.7" y2="851.2"/>
<line x1="1259" y1="651" x2="1309" y2="651"/><line x1="1259" y1="655.3" x2="1297" y2="655.3"/>
<line x1="1259" y1="687.9" x2="1297" y2="687.9"/><line x1="1259" y1="736.1" x2="1297" y2="736.1"/>
<line x1="1259" y1="783.6" x2="1297" y2="783.6"/><line x1="1259" y1="851.2" x2="1309" y2="851.2"/>
<line x1="1259" y1="853.5" x2="1297" y2="853.5"/>
<line x1="1266" y1="646.5" x2="1285" y2="646.5"/><line x1="1266" y1="665.5" x2="1285" y2="665.5"/>
<line x1="1266" y1="684" x2="1285" y2="684"/><line x1="1266" y1="732" x2="1285" y2="732"/>
<line x1="1266" y1="779.6" x2="1285" y2="779.6"/><line x1="1266" y1="847" x2="1285" y2="847"/>
<path d="M1267 646.5 l3 4 l3 -4 M1267 655.3 l3 -4 l3 4 M1267 687.9 l3 -4 l3 4 M1267 736.1 l3 -4 l3 4 M1267 783.6 l3 -4 l3 4 M1267 851.2 l3 -4 l3 4 M1267 853.5 l3 4 l3 -4"/>
<line x1="1052.2" y1="872" x2="1231.4" y2="872"/>
<line x1="1052.2" y1="860" x2="1052.2" y2="882"/><line x1="1231.4" y1="860" x2="1231.4" y2="882"/>
<path d="M1183 643 h20 l3 12 M1110 661 h18 M1110 661 l-3 12 M1221 757 l9 -9 h22 M1082 670 v18 M1154 652 v4"/>
</g>
<g fill="#fff" stroke="#0f0" stroke-width="0.8"><circle cx="1052.2" cy="888.2" r="6"/><circle cx="1231.4" cy="888.2" r="6"/></g>
<g class="cn" font-size="9" text-anchor="middle"><text x="1052.2" y="891.4">E</text><text x="1231.4" y="891.4">A</text></g>
<g class="d" font-size="7" text-anchor="middle">
<text x="1276.8" y="647">13.400</text><text x="1276.8" y="666">13.100</text><text x="1276.8" y="684.5">10.900</text>
<text x="1276.8" y="732">7.700</text><text x="1276.8" y="779.5">4.500</text><text x="1276.8" y="846.5">±0.000</text><text x="1276.8" y="863.5">−0.150</text>
<text x="1141.4" y="870.5">12000</text>
<text transform="translate(1296.9,653.2) rotate(-90)">300</text>
<text transform="translate(1296.9,672) rotate(-90)">2200</text>
<text transform="translate(1296.9,712) rotate(-90)">3200</text>
<text transform="translate(1296.9,760) rotate(-90)">3200</text>
<text transform="translate(1296.9,817) rotate(-90)">4500</text>
<text transform="translate(1296.9,852) rotate(-90)">150</text>
<text transform="translate(1308.6,751) rotate(-90)">13400</text>
<text transform="translate(1168,650) rotate(-90)">300</text>
<text transform="translate(1088,679) rotate(-90)">1200</text>
</g>
<g class="cn" font-size="4.5" font-weight="bold">
<text x="1185" y="643">女儿墙</text><text x="1185" y="651">浅色调玻璃</text>
<text x="1120" y="659">女儿墙</text><text x="1112" y="667">浅色调玻璃</text>
<text x="1232" y="756">浅色调墙砖</text>
</g>
<text class="cn" x="1110" y="919" font-size="12">E~A轴立面图</text>
<text class="d" x="1190" y="919" font-size="10">1:100</text>
<line x1="1110" y1="921" x2="1180" y2="921" stroke="#0f0" stroke-width="0.7"/>
<text class="d" x="1120" y="930" font-size="4" fill="#4ab">1.[ｽﾄ]ｿﾞｳｼﾞﾅｰﾌｨﾄ950mm.]</text>
</g>
</svg>
</body></html>
